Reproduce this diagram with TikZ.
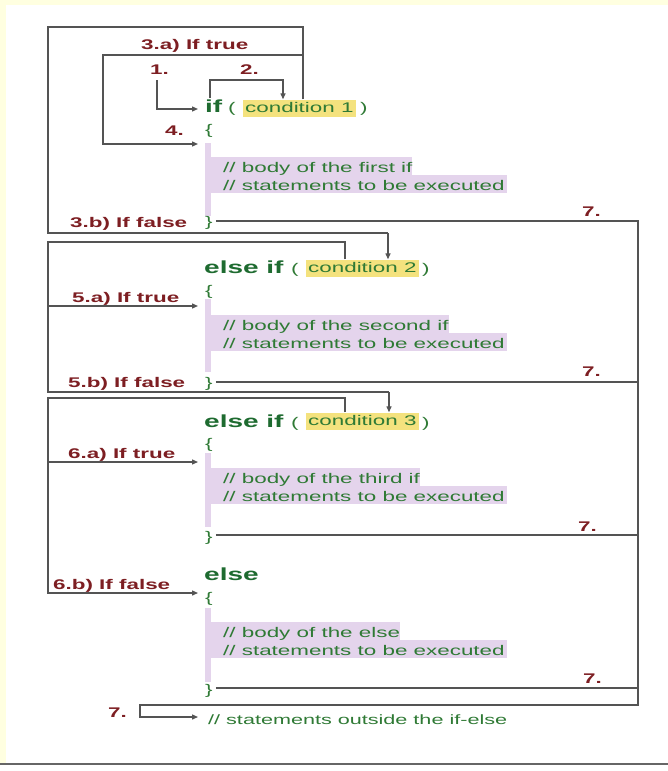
\documentclass[tikz,border=0pt]{standalone}
\usepackage{fontspec}
\setmainfont{Liberation Sans}
\usetikzlibrary{arrows.meta,calc,positioning}

\definecolor{bgyellow}{HTML}{FFFFE0}
\definecolor{lblred}{HTML}{7D1E22}
\definecolor{kwgreen}{HTML}{1E6B30}
\definecolor{codegreen}{HTML}{2F7A35}
\definecolor{condyellow}{HTML}{F4E27E}
\definecolor{bodypurple}{HTML}{E4D4EC}
\definecolor{linegray}{HTML}{545454}
\definecolor{framegray}{HTML}{666666}

\newcommand{\wtxt}[1]{\scalebox{1.6}[1]{#1}}
\newcommand{\lblfont}{\bfseries\fontsize{14}{16}\selectfont}
\newcommand{\kwfont}{\bfseries\fontsize{17.5}{20}\selectfont}
\newcommand{\codefont}{\fontsize{14}{16}\selectfont}

\tikzset{
  flow/.style={draw=linegray, line width=1.3pt},
  lbl/.style={text=lblred, font=\lblfont, anchor=base west, inner sep=0pt},
  kw/.style={text=kwgreen, font=\kwfont, anchor=base west, inner sep=0pt},
  code/.style={text=codegreen, font=\codefont, anchor=base west, inner sep=0pt},
  brace/.style={code, inner xsep=3pt},
  cond/.style={code, fill=condyellow, inner xsep=2pt, inner ysep=1.5pt, text height=11pt, text depth=3pt},
  body/.style={code, fill=bodypurple, text height=15pt, text depth=3pt},
}

\begin{document}
\begin{tikzpicture}[x=1pt,y=-1pt,>={Triangle[length=6pt,width=5pt]}]
  \useasboundingbox (0,0) rectangle (668,771);
  \fill[white] (0,0) rectangle (668,771);
  \fill[bgyellow] (0,0) rectangle (668,5);
  \fill[bgyellow] (0,0) rectangle (6,763);
  \draw[framegray, line width=2.5pt] (0,764) -- (668,764);

  % first if
  \node[kw] (kif1) at (205,112) {\wtxt{if}};
  \node[code] (op1) at (228,112) {\wtxt{(}};
  \node[cond] (cond1) at (243,112) {\wtxt{condition 1}};
  \node[code] (cp1) at (360,112) {\wtxt{)}};
  \node[brace] (ob1) at (202,134) {\wtxt{\{}};
  \fill[bodypurple] (205,143) rectangle (211,216);
  \node[body] (b11) at (205,172) {\hspace*{18pt}\wtxt{// body of the first if}};
  \node[body] (b12) at (205,190) {\hspace*{18pt}\wtxt{// statements to be executed}\hspace*{2pt}};
  \node[brace] (cb1) at (202,226) {\wtxt{\}}};

  % second if
  \node[kw] (kif2) at (204,273) {\wtxt{else if}};
  \node[code] (op2) at (291,273) {\wtxt{(}};
  \node[cond] (cond2) at (306,272) {\wtxt{condition 2}};
  \node[code] (cp2) at (422,273) {\wtxt{)}};
  \node[brace] (ob2) at (202,295) {\wtxt{\{}};
  \fill[bodypurple] (205,299) rectangle (211,372);
  \node[body] (b21) at (205,330) {\hspace*{18pt}\wtxt{// body of the second if}};
  \node[body] (b22) at (205,348) {\hspace*{18pt}\wtxt{// statements to be executed}\hspace*{2pt}};
  \node[brace] (cb2) at (202,387) {\wtxt{\}}};

  % third if
  \node[kw] (kif3) at (204,427) {\wtxt{else if}};
  \node[code] (op3) at (291,427) {\wtxt{(}};
  \node[cond] (cond3) at (306,425) {\wtxt{condition 3}};
  \node[code] (cp3) at (422,427) {\wtxt{)}};
  \node[brace] (ob3) at (202,448) {\wtxt{\{}};
  \fill[bodypurple] (205,453) rectangle (211,527);
  \node[body] (b31) at (205,483) {\hspace*{18pt}\wtxt{// body of the third if}};
  \node[body] (b32) at (205,501) {\hspace*{18pt}\wtxt{// statements to be executed}\hspace*{2pt}};
  \node[brace] (cb3) at (202,541) {\wtxt{\}}};

  % else
  \node[kw] (kelse) at (204,580) {\wtxt{else}};
  \node[brace] (ob4) at (202,602) {\wtxt{\{}};
  \fill[bodypurple] (205,608) rectangle (211,682);
  \node[body] (b41) at (205,637) {\hspace*{18pt}\wtxt{// body of the else}};
  \node[body] (b42) at (205,655) {\hspace*{18pt}\wtxt{// statements to be executed}\hspace*{2pt}};
  \node[brace] (cb4) at (202,694) {\wtxt{\}}};
  \node[code, font=\fontsize{13.5}{16}\selectfont] (outside) at (208,724) {\wtxt{// statements outside the if-else}};

  % labels
  \node[lbl] (l3a) at (141,49) {\wtxt{3.a) If true}};
  \node[lbl] (l1) at (150,74) {\wtxt{1.}};
  \node[lbl] (l2) at (240,74) {\wtxt{2.}};
  \node[lbl] (l4) at (165,135) {\wtxt{4.}};
  \node[lbl] (l3b) at (70,227) {\wtxt{3.b) If false}};
  \node[lbl] (l7a) at (582,216) {\wtxt{7.}};
  \node[lbl] (l5a) at (72,302) {\wtxt{5.a) If true}};
  \node[lbl] (l5b) at (68,387) {\wtxt{5.b) If false}};
  \node[lbl] (l7b) at (582,376) {\wtxt{7.}};
  \node[lbl] (l6a) at (68,458) {\wtxt{6.a) If true}};
  \node[lbl] (l7c) at (578,531) {\wtxt{7.}};
  \node[lbl] (l6b) at (53,589) {\wtxt{6.b) If false}};
  \node[lbl] (l7d) at (583,683) {\wtxt{7.}};
  \node[lbl] (l7e) at (108,717) {\wtxt{7.}};

  % bends
  \coordinate (p1) at (157,80);
  \coordinate (in1) at (198,109);
  \coordinate (p2a) at (210,98);
  \coordinate (p2b) at (283,80);
  \coordinate (t1) at (303,27);
  \coordinate (tl1) at (48,27);
  \coordinate (k3a) at (103,55);
  \coordinate (in4) at (198,144);
  \coordinate (p3b) at (388,233);
  \coordinate (t2) at (345,242);
  \coordinate (tl2) at (48,242);
  \coordinate (p5b) at (389,392);
  \coordinate (in5a) at (198,306);
  \coordinate (t3) at (345,398);
  \coordinate (tl3) at (48,398);
  \coordinate (in6a) at (198,462);
  \coordinate (in6b) at (198,593);
  \coordinate (r1) at (638,221);
  \coordinate (r2) at (638,382);
  \coordinate (r3) at (638,535);
  \coordinate (r4) at (638,688);
  \coordinate (rb) at (638,705);
  \coordinate (fb) at (140,705);
  \coordinate (inout) at (198,717);

  % connectors
  \draw[flow,->] (p1) |- (in1);
  \draw[flow,->] (p2a) |- (p2b) -- (p2b |- cond1.north);
  \draw[flow] (t1 |- cond1.north) -- (t1) -- (tl1) |- (p3b);
  \draw[flow,->] (p3b) -- (p3b |- cond2.north);
  \draw[flow,->] (t1 |- k3a) -- (k3a) |- (in4);
  \draw[flow] (t2 |- cond2.north) -- (t2) -- (tl2) |- (p5b);
  \draw[flow,->] (p5b) -- (p5b |- cond3.north);
  \draw[flow,->] (tl2 |- in5a) -- (in5a);
  \draw[flow,->] (t3 |- cond3.north) -- (t3) -- (tl3) |- (in6b);
  \draw[flow,->] (tl3 |- in6a) -- (in6a);
  \draw[flow,->] (cb1.east |- r1) -- (r1) -- (rb) -- (fb) |- (inout);
  \draw[flow] (cb2.east |- r2) -- (r2);
  \draw[flow] (cb3.east |- r3) -- (r3);
  \draw[flow] (cb4.east |- r4) -- (r4);
\end{tikzpicture}
\end{document}
